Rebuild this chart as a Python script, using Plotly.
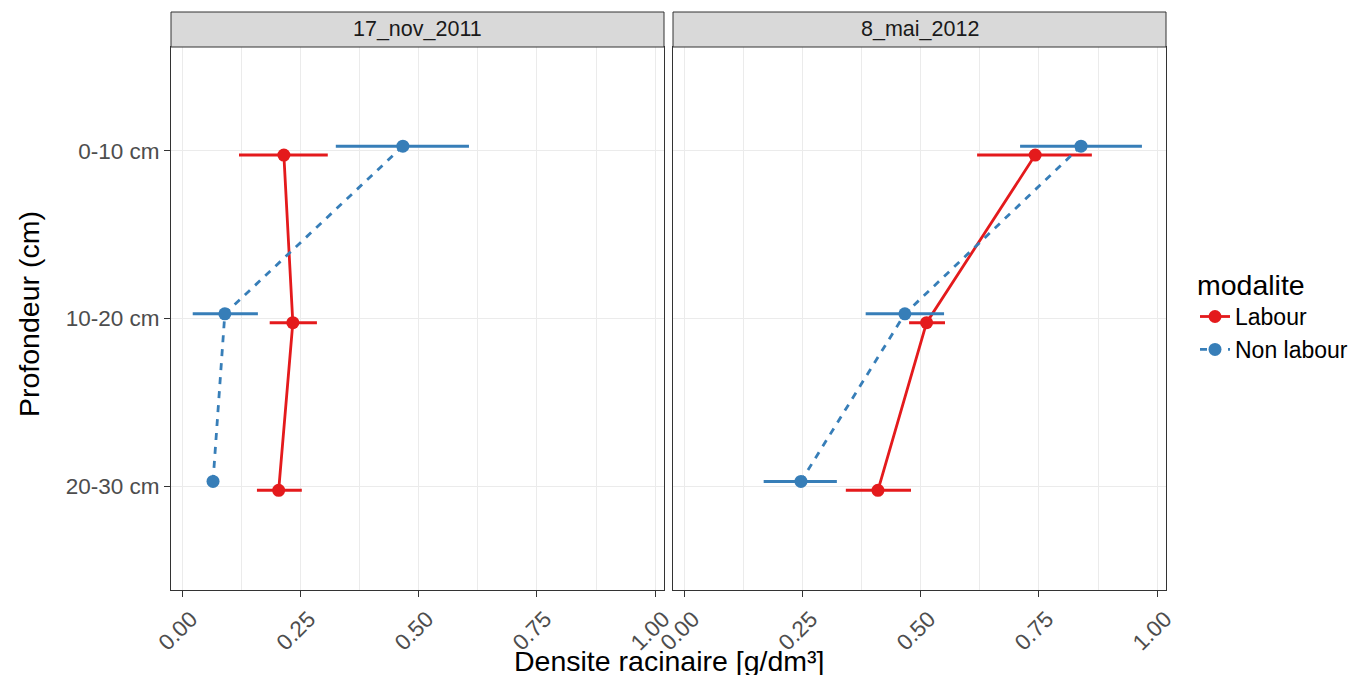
import plotly.graph_objects as go
from plotly.subplots import make_subplots

depths = ["0-10 cm", "10-20 cm", "20-30 cm"]
dates = ["17_nov_2011", "8_mai_2012"]
modalites = ["Labour", "Non labour"]

# mean root density, lower and upper error bounds, per date
labour_mean = {"17_nov_2011": [0.214, 0.233, 0.203], "8_mai_2012": [0.742, 0.512, 0.409]}
labour_low = {"17_nov_2011": [0.119, 0.184, 0.157], "8_mai_2012": [0.619, 0.475, 0.341]}
labour_high = {"17_nov_2011": [0.307, 0.284, 0.252], "8_mai_2012": [0.862, 0.551, 0.479]}

nonlabour_mean = {"17_nov_2011": [0.466, 0.089, 0.064], "8_mai_2012": [0.839, 0.466, 0.246]}
nonlabour_low = {"17_nov_2011": [0.324, 0.021, 0.064], "8_mai_2012": [0.710, 0.383, 0.167]}
nonlabour_high = {"17_nov_2011": [0.606, 0.159, 0.064], "8_mai_2012": [0.968, 0.549, 0.322]}

colors = {"Labour": "#E41A1C", "Non labour": "#377EB8"}
dodge = {"Labour": 0.025, "Non labour": -0.028}
dashes = {"Labour": "solid", "Non labour": "7px,7px"}

FONT = "Liberation Sans, Arial, sans-serif"
W, H = 1362, 675
OFF = 8  # page body margin in the browser


def px_x(v):
    return (v - OFF) / W


def px_y(v):
    return 1 - (v - OFF) / H


fig = make_subplots(rows=1, cols=2, shared_yaxes=True)

series = {
    "Labour": (labour_mean, labour_low, labour_high),
    "Non labour": (nonlabour_mean, nonlabour_low, nonlabour_high),
}

for ci, d in enumerate(dates):
    for m in modalites:
        mean, low, high = series[m]
        xs = mean[d]
        ys = [i + dodge[m] for i in range(len(depths))]
        plus = [h - x for h, x in zip(high[d], xs)]
        minus = [x - l for x, l in zip(xs, low[d])]
        fig.add_trace(go.Scatter(
            x=xs, y=ys, mode="lines+markers", name=m,
            legendgroup=m, showlegend=(ci == 0),
            line=dict(color=colors[m], width=2.8, dash=dashes[m]),
            marker=dict(color=colors[m], size=13),
            error_x=dict(type="data", array=plus, arrayminus=minus, symmetric=False,
                         width=0, thickness=3, color=colors[m]),
        ), row=1, col=ci + 1)

y_bot = px_y(590)
y_top = px_y(47)
strip_top = px_y(12)
doms = [(px_x(171), px_x(664)), (px_x(673), px_x(1166))]

xaxis_common = dict(
    range=[-0.025, 1.019], tickvals=[0, 0.25, 0.5, 0.75, 1.0],
    ticktext=["0.00", "0.25", "0.50", "0.75", "1.00"], tickangle=-45,
    ticklabelshift=8,
    showgrid=True, gridcolor="#EBEBEB", gridwidth=1.2,
    minor=dict(tickvals=[0.125, 0.375, 0.625, 0.875], showgrid=True, gridcolor="#EBEBEB", gridwidth=0.8, ticks=""),
    ticks="outside", ticklen=6, tickwidth=1, tickcolor="#333333",
    tickfont=dict(family=FONT, size=22.5, color="#4D4D4D"),
    showline=True, linecolor="#333333", linewidth=1, mirror=True,
    zeroline=False, automargin=False,
)
fig.update_layout(
    xaxis=dict(xaxis_common, domain=list(doms[0]), anchor="y"),
    xaxis2=dict(xaxis_common, domain=list(doms[1]), anchor="y2"),
    yaxis=dict(domain=[y_bot, y_top], range=[2.62, -0.62], tickvals=[0, 1, 2], ticktext=depths,
               showgrid=True, gridcolor="#EBEBEB", gridwidth=1.2, zeroline=False,
               ticks="outside", ticklen=6, tickwidth=1, tickcolor="#333333",
               tickfont=dict(family=FONT, size=22.5, color="#4D4D4D"),
               showline=True, linecolor="#333333", linewidth=1, mirror=True, anchor="x",
               automargin=False),
    yaxis2=dict(domain=[y_bot, y_top], range=[2.62, -0.62], tickvals=[0, 1, 2], showticklabels=False,
                showgrid=True, gridcolor="#EBEBEB", gridwidth=1.2, zeroline=False, ticks="",
                showline=True, linecolor="#333333", linewidth=1, mirror=True, anchor="x2", matches="y",
                automargin=False),
)

shapes = []
annotations = []
for ci, d in enumerate(dates):
    x0, x1 = doms[ci]
    shapes.append(dict(type="rect", xref="paper", yref="paper", x0=x0, x1=x1, y0=y_top, y1=strip_top,
                       fillcolor="#D9D9D9", line=dict(color="#333333", width=1), layer="above"))
    annotations.append(dict(text=d, xref="paper", yref="paper", x=(x0 + x1) / 2, y=(y_top + strip_top) / 2,
                            showarrow=False, xanchor="center", yanchor="middle",
                            font=dict(family=FONT, size=21.5, color="#1A1A1A")))

annotations.append(dict(text="Densite racinaire [g/dm³]", xref="paper", yref="paper",
                        x=px_x((171 + 1166) / 2), y=px_y(661), showarrow=False,
                        xanchor="center", yanchor="middle",
                        font=dict(family=FONT, size=28.5, color="#000000")))
annotations.append(dict(text="Profondeur (cm)", xref="paper", yref="paper",
                        x=px_x(29), y=px_y(314), showarrow=False, textangle=-90,
                        xanchor="center", yanchor="middle",
                        font=dict(family=FONT, size=28.5, color="#000000")))

fig.update_layout(
    width=W, height=H,
    margin=dict(l=0, r=0, t=0, b=0, autoexpand=False),
    paper_bgcolor="white", plot_bgcolor="white",
    shapes=shapes, annotations=annotations,
    legend=dict(x=px_x(1195), y=px_y(258), xanchor="left", yanchor="top",
                title=dict(text="modalite", font=dict(family=FONT, size=28.5, color="#000000")),
                font=dict(family=FONT, size=23, color="#000000"),
                bgcolor="rgba(0,0,0,0)", tracegroupgap=0, itemwidth=30),
    showlegend=True,
)

fig.write_html("out.html")
